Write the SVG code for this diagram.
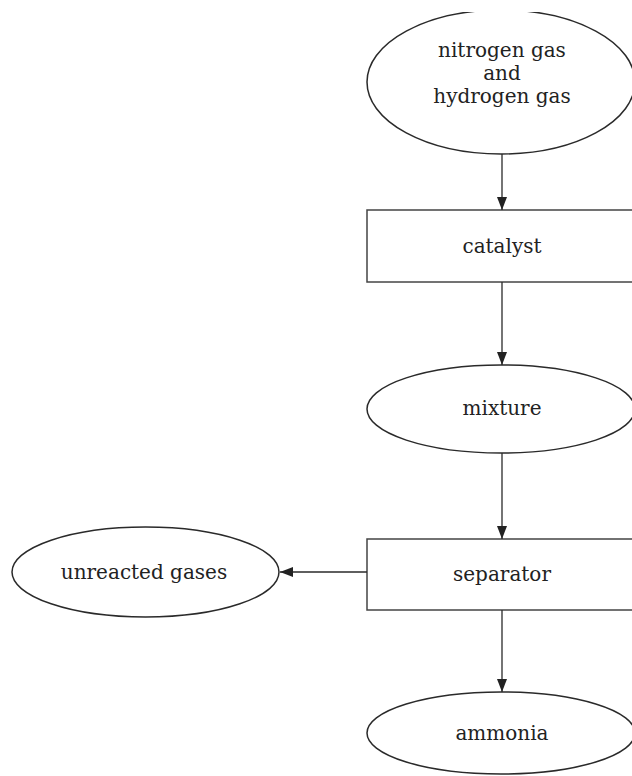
<svg xmlns="http://www.w3.org/2000/svg" width="632" height="776" viewBox="0 0 632 776">
  <defs>
    <style>
      .node { fill: none; stroke: #2a2a2a; stroke-width: 1.5; }
      .box { fill: none; stroke: #444; stroke-width: 1.5; }
      .label { font-family: "DejaVu Serif", "Liberation Serif", serif; font-size: 20px; fill: #222; text-anchor: middle; }
      .edge { stroke: #2a2a2a; stroke-width: 1.3; fill: none; marker-end: url(#arrow); }
    </style>
    <marker id="arrow" markerUnits="userSpaceOnUse" markerWidth="14" markerHeight="10" refX="13" refY="5" orient="auto">
      <path d="M0,0 L13,5 L0,10 z" fill="#222"/>
    </marker>
    <clipPath id="topclip">
      <rect x="0" y="12" width="632" height="764"/>
    </clipPath>
  </defs>
  <rect width="632" height="776" fill="#fff"/>

  <g id="gases">
    <ellipse class="node" cx="501" cy="82" rx="134" ry="72" clip-path="url(#topclip)"/>
    <text class="label" x="502" y="57">nitrogen gas</text>
    <text class="label" x="502" y="80">and</text>
    <text class="label" x="502" y="103">hydrogen gas</text>
  </g>

  <g id="catalyst">
    <rect class="box" x="367" y="210" width="300" height="72"/>
    <text class="label" x="502" y="253">catalyst</text>
  </g>

  <g id="mixture">
    <ellipse class="node" cx="501" cy="409" rx="134" ry="44"/>
    <text class="label" x="502" y="415">mixture</text>
  </g>

  <g id="separator">
    <rect class="box" x="367" y="539" width="300" height="71"/>
    <text class="label" x="502" y="581">separator</text>
  </g>

  <g id="unreacted">
    <ellipse class="node" cx="145.5" cy="572" rx="133.5" ry="45"/>
    <text class="label" x="144" y="579">unreacted gases</text>
  </g>

  <g id="ammonia">
    <ellipse class="node" cx="501" cy="733" rx="134" ry="41"/>
    <text class="label" x="502" y="740">ammonia</text>
  </g>

  <g id="connectors">
    <line class="edge" x1="502" y1="154" x2="502" y2="210"/>
    <line class="edge" x1="502" y1="282" x2="502" y2="365"/>
    <line class="edge" x1="502" y1="453" x2="502" y2="539"/>
    <line class="edge" x1="502" y1="610" x2="502" y2="692"/>
    <line class="edge" x1="367" y1="572" x2="280" y2="572"/>
  </g>
</svg>
